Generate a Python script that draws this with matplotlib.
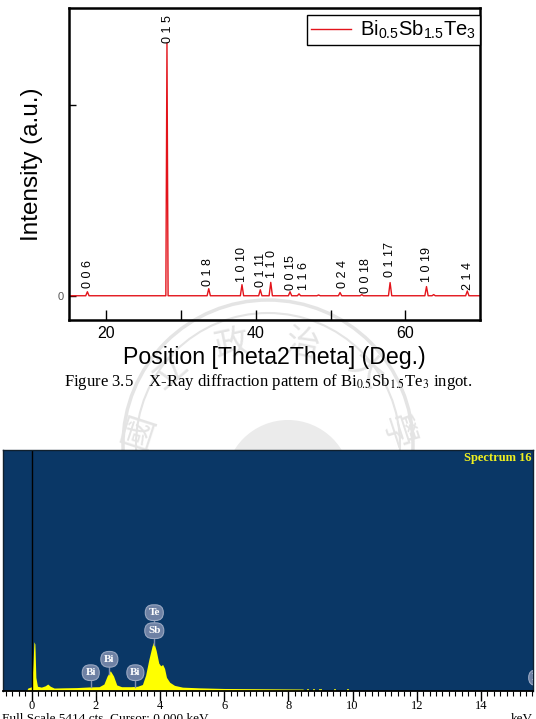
import matplotlib
matplotlib.use("Agg")
import matplotlib.pyplot as plt
from matplotlib.patches import Circle

# ---- XRD data (Bi0.5Sb1.5Te3 ingot) ----
two_theta = [17.46, 28.11, 33.7, 38.15, 40.6, 42.0, 44.58, 45.78, 48.4,
             51.27, 54.18, 57.97, 62.84, 63.8, 68.3]
intensity = [210, 13230, 370, 580, 315, 700, 210, 100, 40,
             170, 60, 690, 480, 60, 250]
hkl = ["0 0 6", "0 1 5", "0 1 8", "1 0 10", "0 1 11", "1 1 0", "0 0 15",
       "1 1 6", "0 2 4", "0 0 18", "0 1 17", "1 0 19", "2 1 4"]

# ---- EDS spectrum (Spectrum 16) ----
energy_kev = [-0.16, -0.12, 0.0, 0.04, 0.07, 0.1, 0.13, 0.18, 0.3, 0.42, 0.5,
              0.58, 0.7, 1.0, 1.4, 1.8, 2.1, 2.25, 2.35, 2.45, 2.55, 2.65,
              2.8, 3.1, 3.3, 3.45, 3.55, 3.65, 3.75, 3.8, 3.88, 3.96, 4.02,
              4.08, 4.14, 4.2, 4.3, 4.45, 4.7, 5.2, 6.0, 7.0, 8.0, 8.45, 8.5]
counts = [0, 60, 90, 600, 1100, 1050, 300, 100, 80, 110, 150,
          100, 60, 65, 70, 85, 90, 150, 330, 450, 330, 130,
          90, 90, 100, 140, 350, 700, 1000, 1100, 900, 620, 560,
          590, 500, 300, 190, 120, 80, 65, 50, 45, 40, 38, 0]
sparse_kev = [8.62, 8.8, 9.0, 9.45, 9.85]
eds_names = ["Bi", "Bi", "Bi", "Sb", "Te", "Bi"]
eds_kev = [1.84, 2.42, 3.23, 3.82, 3.82, 15.75]
full_scale = 5414

plt.rcParams['font.family'] = ['Liberation Sans', 'DejaVu Sans']
plt.rcParams['mathtext.fontset'] = 'custom'
plt.rcParams['mathtext.rm'] = 'Liberation Sans'
plt.rcParams['mathtext.it'] = 'Liberation Sans'

fig = plt.figure(figsize=(5.36, 7.19), dpi=100)

# faint university seal watermark (pixel coords)
bg = fig.add_axes([0, 0, 1, 1], zorder=-5)
bg.set_xlim(0, 536)
bg.set_ylim(719, 0)
bg.axis('off')
wm = '#e4e4e4'
cx, cy = 268, 445
bg.add_patch(Circle((cx, cy), 145, fill=False, ec=wm, lw=2.5))
bg.add_patch(Circle((cx, cy), 132, fill=False, ec=wm, lw=1.5))
bg.add_patch(Circle((cx + 20, cy + 38), 63, fc='#ebebeb', ec='none'))
for ch, px, py, rot in [("國", 140, 432, 72), ("立", 170, 372, 40), ("政", 232, 345, 12),
                        ("治", 302, 345, -12), ("大", 365, 372, -40), ("學", 396, 432, -72)]:
    bg.text(px, py, ch, color=wm, fontsize=25, rotation=rot, ha='center', va='center',
            family=['Noto Sans CJK TC', 'DejaVu Sans'])

# ---- XRD panel ----
ax = fig.add_axes([69 / 536, 1 - 320 / 719, 411 / 536, 312 / 719])
ax.set_facecolor('none')

xs = [15.0]
ys = [0]
for p, h in zip(two_theta, intensity):
    w = 0.15 if h > 5000 else 0.22
    xs += [p - w, p, p + w]
    ys += [0, h, 0]
xs.append(70.0)
ys.append(0)
ax.plot(xs, ys, color='#e3141b', lw=1.0,
        label=r'$\mathregular{Bi_{0.5}Sb_{1.5}Te_3}$')

label_x = [17.6, 28.2, 33.55, 38.1, 40.65, 42.1, 44.65, 46.4, 51.6, 54.8, 57.9, 62.9, 68.4]
label_y = [400, 13250, 510, 720, 460, 930, 300, 300, 400, 140, 980, 720, 300]
for t, lx, ly in zip(hkl, label_x, label_y):
    ax.text(lx, ly, t, rotation=90, ha='center', va='bottom', fontsize=9)

ax.set_xlim(15, 70)
ax.set_ylim(-1270, 15070)
ax.set_xticks([20, 40, 60])
ax.set_xticks([30, 50], minor=True)
ax.set_yticks([0, 10000])
ax.set_yticklabels(['0', ''])
ax.tick_params(axis='x', which='both', direction='in', length=7, width=1, labelsize=11.5, pad=4)
ax.tick_params(axis='y', direction='in', length=5, width=1, labelsize=8, labelcolor='#555555')
for s in ax.spines.values():
    s.set_linewidth(1.8)
ax.set_xlabel('Position [Theta2Theta] (Deg.)', fontsize=16.7, labelpad=4)
ax.set_ylabel('Intensity (a.u.)', fontsize=17.5, labelpad=11)
leg = ax.legend(loc='upper right', bbox_to_anchor=(1.0, 1 - 6.7 / 312), borderaxespad=0,
                fancybox=False, edgecolor='black', framealpha=1, fontsize=14.5,
                handlelength=2.0, handletextpad=0.45, borderpad=0.2)
leg.get_frame().set_linewidth(1.0)

fig.text(0.5, 1 - 382 / 719,
         r'Figure 3.5    X-Ray diffraction pattern of Bi$_{0.5}$Sb$_{1.5}$Te$_3$ ingot.',
         ha='center', va='center', fontsize=12, family='Liberation Serif',
         math_fontfamily='stix')

# ---- EDS panel ----
ex = fig.add_axes([3 / 536, 1 - 690.7 / 719, 530 / 536, 240.7 / 719])
ex.set_facecolor('#0a3766')
ex.fill_between(energy_kev, counts, 0, color='#ffff00', lw=0)
ex.bar(sparse_kev, [30] * len(sparse_kev), width=0.07, color='#c8d21e', lw=0)
ex.axvline(0, color='black', lw=1)
ex.set_xlim(-0.894, 15.62)
ex.set_ylim(0, full_scale)

for n, e in zip(eds_names, eds_kev):
    yv = {"Te": 1755, "Sb": 1350}.get(n, 405)
    if n == "Bi" and 2.3 < e < 2.5:
        yv = 706
    if e > 15:
        yv = 293
    ex.plot([e, e], [yv - 330, yv], color='#8090b0', lw=1, clip_on=True)
    ex.text(e, yv, n, ha='center', va='center', color='white', fontsize=8,
            family='Liberation Serif', fontweight='bold',
            bbox=dict(boxstyle='round,pad=0.3,rounding_size=0.7', fc='#6e81a4', ec='#9aa8c2', lw=0.8),
            clip_on=True)

ex.text(0.997, 0.965, 'Spectrum 16', transform=ex.transAxes, ha='right', va='center',
        color='#f0f020', fontsize=9, family='Liberation Serif', fontweight='bold')

ex.set_xticks(range(0, 16, 2))
ex.set_xticks([i * 0.2 for i in range(-4, 79)], minor=True)
ex.set_yticks([])
ex.tick_params(axis='x', which='major', direction='out', length=7, width=1, labelsize=9, pad=0)
ex.tick_params(axis='x', which='minor', direction='out', length=3.5, width=0.8)
for lab in ex.get_xticklabels():
    lab.set_family('Liberation Serif')
for side in ['top', 'left', 'right']:
    ex.spines[side].set_color('#10202e')
    ex.spines[side].set_linewidth(1)
ex.spines['bottom'].set_color('black')
ex.spines['bottom'].set_linewidth(1.3)

fig.text(2 / 536, 1 - 713.5 / 719, 'Full Scale 5414 cts  Cursor: 0.000 keV', ha='left', va='top',
         fontsize=9.5, family='Liberation Serif')
fig.text(511 / 536, 1 - 713.5 / 719, 'keV', ha='left', va='top', fontsize=9.5,
         family='Liberation Serif')

fig.savefig('out.png', dpi=100)
